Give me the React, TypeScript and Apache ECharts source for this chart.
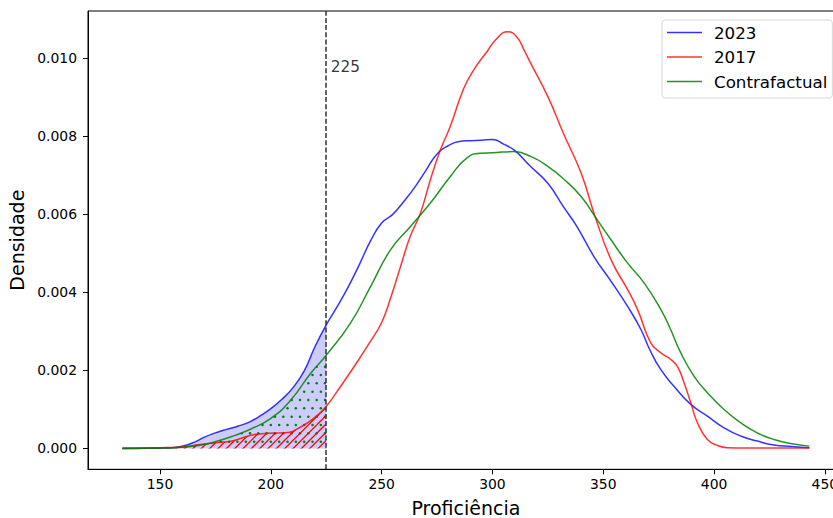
import React, { useEffect, useRef } from 'react';
import * as echarts from 'echarts';

// ---- Data (KDE curves) ----
const x2023 = [133,145,155,160,165,170,175,180,185,190,195,200,205,210,215,220,225,230,235,240,245,250,255,260,265,270,275,280,285,290,295,300,305,310,317,325,332,338,346,353,361,367,371,376,382,389.5,397,404.5,412,419.5,427,435,443];
const y2023 = [0,0.000005,0.00002,0.00006,0.00015,0.00029,0.0004,0.00049,0.00057,0.00067,0.00083,0.00102,0.00126,0.00156,0.00198,0.00262,0.00317,0.00364,0.00415,0.00472,0.00532,0.00578,0.006,0.00633,0.0067,0.00713,0.00755,0.00776,0.00787,0.00789,0.0079,0.00792,0.0078,0.00764,0.00724,0.0068,0.0062,0.0057,0.0049,0.00433,0.00364,0.00305,0.00253,0.00202,0.00159,0.00113,0.00083,0.00053,0.00032,0.00019,0.00009,0.00005,0.00002];

const x2017 = [133,150,160,168,176,183,191,198.5,206,213.5,221,225,230,237,245,250,254,258.5,263,267.5,272,276.5,281,287,291.5,297.5,302,306.8,311,314.3,317.3,325,332,340,346,353.5,361,365.5,371.5,376,380.5,383.5,386.5,389.5,392.5,397,401.5,406,415,443];
const y2017 = [0.00001,0.00002,0.00004,0.0001,0.00015,0.0002,0.00034,0.00039,0.0004,0.00055,0.00085,0.00108,0.00147,0.00205,0.00275,0.00323,0.00385,0.00466,0.00545,0.00603,0.00689,0.00765,0.00826,0.00922,0.0097,0.01017,0.01051,0.01068,0.01055,0.01021,0.00987,0.00902,0.00808,0.00706,0.006,0.00484,0.00407,0.00356,0.0027,0.00245,0.00228,0.0021,0.00168,0.00117,0.00066,0.00023,0.00008,0.00002,0.00001,0.00001];

const xContra = [133,150,160,168,176,183.5,191,200,209,218,225,236,245,254,263,272,281,288.5,294.5,300,309.5,317.5,325,332.5,340,346,353.5,361,368.5,376,380,385,391,397,404.5,412,419.5,427,434.5,443];
const yContra = [0,0.00001,0.00003,0.00008,0.00019,0.00033,0.0005,0.00077,0.00124,0.00193,0.00239,0.00322,0.00415,0.00509,0.00569,0.00629,0.00697,0.00745,0.00757,0.00758,0.00761,0.00748,0.00723,0.00689,0.00646,0.00597,0.00535,0.00475,0.00424,0.00356,0.0031,0.00245,0.00185,0.00143,0.001,0.00066,0.0004,0.00023,0.00013,0.00006];

const seriesNames = ['2023', '2017', 'Contrafactual'];
const threshold = 225;
const thresholdLabel = '225';
const thresholdLabelY = 0.00977;

const xTicks = [150, 200, 250, 300, 350, 400, 450];
const yTicks = [0, 0.002, 0.004, 0.006, 0.008, 0.01];

const FONT = 'DejaVu Sans';

function zip(xs: number[], ys: number[]) {
  return xs.map((x, i) => [x, ys[i]]);
}
function below(xs: number[], ys: number[], limit: number) {
  return zip(xs, ys).filter((p) => p[0] <= limit);
}
function svgUrl(svg: string) {
  return 'data:image/svg+xml;charset=utf-8,' + encodeURIComponent(svg);
}

function hatchPattern() {
  const s = 25 / 3;
  let lines = '';
  for (let k = 0; k <= 6; k++) {
    const c = k * s;
    lines += `<line x1="${c}" y1="0" x2="${c - 25}" y2="25" stroke="#ff0000" stroke-width="1.3"/>`;
  }
  const svg = `<svg xmlns="http://www.w3.org/2000/svg" width="25" height="25" viewBox="0 0 25 25">${lines}</svg>`;
  return { image: svgUrl(svg), repeat: 'repeat', imageWidth: 25, imageHeight: 25 };
}

function dotPattern() {
  const s = 25 / 3;
  let dots = '';
  for (let r = 0; r <= 6; r++) {
    const y = r * s;
    if (r % 2 === 0) {
      for (let c = 0; c <= 3; c++) dots += `<circle cx="${c * s}" cy="${y}" r="1.25" fill="#008000"/>`;
    } else {
      for (let c = 0; c < 3; c++) dots += `<circle cx="${c * s + s / 2}" cy="${y}" r="1.25" fill="#008000"/>`;
    }
  }
  const svg = `<svg xmlns="http://www.w3.org/2000/svg" width="25" height="50" viewBox="0 0 25 50">${dots}</svg>`;
  return { image: svgUrl(svg), repeat: 'repeat', imageWidth: 25, imageHeight: 50 };
}

const SMOOTH = 0.5;

function buildOption(): any {
  const lineColors = ['rgba(0,0,255,0.8)', 'rgba(255,0,0,0.8)', 'rgba(0,128,0,0.85)'];
  return {
    animation: false,
    grid: {
      left: 88,
      top: 11,
      bottom: 48.7,
      right: -10.7,
      outerBoundsMode: 'none',
      containLabel: false,
      show: true,
      borderColor: '#000',
      borderWidth: 1,
      backgroundColor: 'transparent',
    },
    legend: {
      data: seriesNames.map((n) => ({ name: n, icon: 'rect' })),
      orient: 'vertical',
      left: 662,
      top: 20,
      itemWidth: 35,
      itemHeight: 1.6,
      itemGap: 7.5,
      padding: [4, 5, 8, 5],
      borderColor: '#d6d6d6',
      borderWidth: 1,
      borderRadius: 3,
      backgroundColor: '#fff',
      textStyle: { fontFamily: FONT, fontSize: 16.7, color: '#000', padding: [0, 0, 0, 7] },
    },
    xAxis: {
      type: 'value',
      min: 117.5,
      max: 458.5,
      name: 'Proficiência',
      nameLocation: 'middle',
      nameGap: 29,
      nameTextStyle: { fontFamily: FONT, fontSize: 19, color: '#000' },
      axisLine: { show: true, onZero: false, lineStyle: { color: '#000', width: 1 } },
      axisTick: { show: true, length: 5, customValues: xTicks, lineStyle: { color: '#000', width: 1 } },
      axisLabel: { customValues: xTicks, margin: 8, fontFamily: FONT, fontSize: 13.9, color: '#000' },
      splitLine: { show: false },
    },
    yAxis: {
      type: 'value',
      min: -0.000534,
      max: 0.011214,
      name: 'Densidade',
      nameLocation: 'middle',
      nameGap: 62,
      nameTextStyle: { fontFamily: FONT, fontSize: 19, color: '#000' },
      axisLine: { show: true, onZero: false, lineStyle: { color: '#000', width: 1 } },
      axisTick: { show: true, length: 5, customValues: yTicks, lineStyle: { color: '#000', width: 1 } },
      axisLabel: {
        customValues: yTicks,
        margin: 11,
        fontFamily: FONT,
        fontSize: 13.9,
        color: '#000',
        formatter: (v: number) => v.toFixed(3),
      },
      splitLine: { show: false },
    },
    series: [
      {
        type: 'line',
        data: below(x2023, y2023, threshold),
        smooth: SMOOTH,
        symbol: 'none',
        lineStyle: { width: 0 },
        areaStyle: { color: 'rgba(0,0,255,0.2)', opacity: 1 },
        silent: true,
      },
      {
        type: 'line',
        data: below(xContra, yContra, threshold),
        smooth: SMOOTH,
        symbol: 'none',
        lineStyle: { width: 0 },
        areaStyle: { color: dotPattern(), opacity: 1 },
        silent: true,
      },
      {
        type: 'line',
        data: below(x2017, y2017, threshold),
        smooth: SMOOTH,
        symbol: 'none',
        lineStyle: { width: 0 },
        areaStyle: { color: hatchPattern(), opacity: 1 },
        silent: true,
      },
      {
        name: seriesNames[0],
        type: 'line',
        data: zip(x2023, y2023),
        smooth: SMOOTH,
        symbol: 'none',
        itemStyle: { color: lineColors[0] },
        lineStyle: { color: lineColors[0], width: 1.5 },
        markLine: {
          silent: true,
          symbol: ['none', 'none'],
          label: { show: false },
          lineStyle: { color: '#333', type: [5, 2.2], width: 1.5 },
          data: [{ xAxis: threshold }],
        },
      },
      {
        name: seriesNames[1],
        type: 'line',
        data: zip(x2017, y2017),
        smooth: SMOOTH,
        symbol: 'none',
        itemStyle: { color: lineColors[1] },
        lineStyle: { color: lineColors[1], width: 1.5 },
      },
      {
        name: seriesNames[2],
        type: 'line',
        data: zip(xContra, yContra),
        smooth: SMOOTH,
        symbol: 'none',
        itemStyle: { color: lineColors[2] },
        lineStyle: { color: lineColors[2], width: 1.5 },
      },
      {
        type: 'scatter',
        data: [[threshold, thresholdLabelY]],
        symbolSize: 1,
        itemStyle: { color: 'rgba(0,0,0,0)' },
        silent: true,
        label: {
          show: true,
          position: 'right',
          distance: 4,
          formatter: thresholdLabel,
          fontFamily: FONT,
          fontSize: 15.3,
          color: '#000',
        },
      },
    ],
  };
}

export default function App() {
  const ref = useRef<HTMLDivElement>(null);
  useEffect(() => {
    if (!ref.current) return;
    const chart = echarts.init(ref.current, null, { renderer: 'svg' });
    chart.setOption(buildOption());
    return () => chart.dispose();
  }, []);
  return (
    <div
      ref={ref}
      style={{ position: 'absolute', left: 0, top: 0, width: 833, height: 518, background: '#fff' }}
    />
  );
}
